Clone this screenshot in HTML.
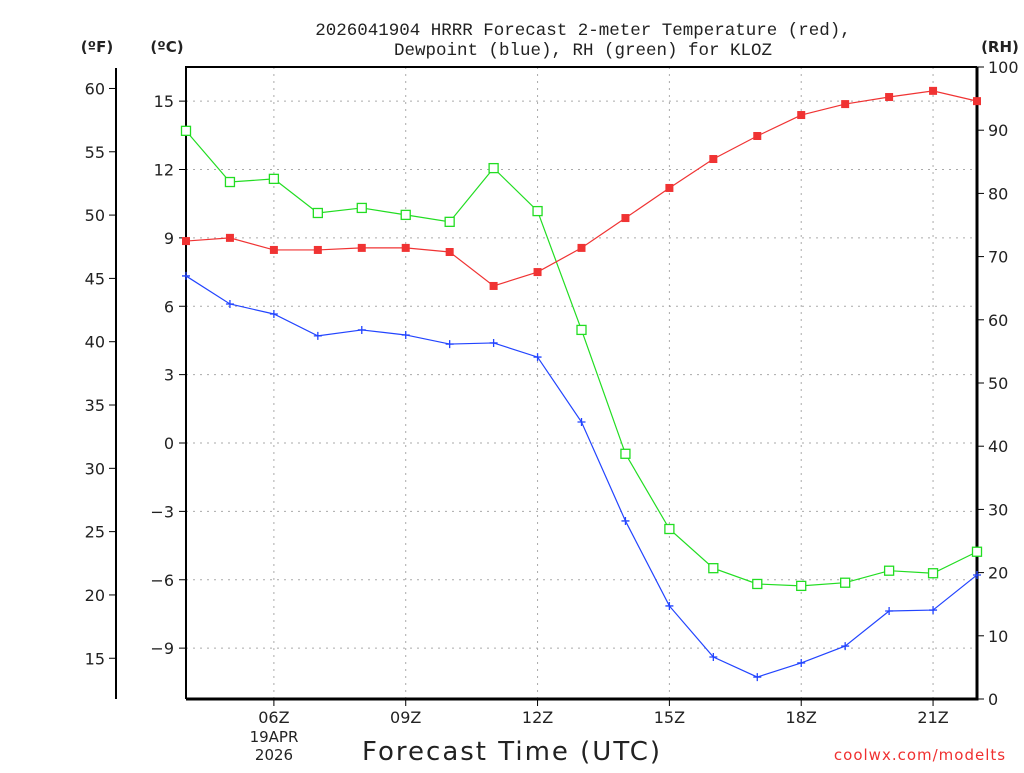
<!DOCTYPE html>
<html><head><meta charset="utf-8"><style>
body{margin:0;background:#fff;}
svg text{font-family:"DejaVu Sans","Liberation Sans",sans-serif;fill:#222;}
svg text.mono{font-family:"Liberation Mono","DejaVu Sans Mono",monospace;}
</style></head><body>
<svg id="chart" width="1024" height="768" viewBox="0 0 1024 768" xmlns="http://www.w3.org/2000/svg">
<g id="grid"></g>
<g id="axes"></g>
<g id="series"></g>
<text class="mono" x="583" y="35" font-size="17.5" text-anchor="middle">2026041904 HRRR Forecast 2-meter Temperature (red),</text>
<text class="mono" x="583" y="55" font-size="17.5" text-anchor="middle">Dewpoint (blue), RH (green) for KLOZ</text>
<text x="97" y="52" font-size="15" font-weight="bold" text-anchor="middle">(ºF)</text>
<text x="167" y="52" font-size="15" font-weight="bold" text-anchor="middle">(ºC)</text>
<text x="1000" y="52" font-size="15" font-weight="bold" text-anchor="middle">(RH)</text>
<text x="512" y="760" font-size="26" text-anchor="middle" letter-spacing="2">Forecast Time (UTC)</text>
<text x="274" y="742" font-size="15" text-anchor="middle">19APR</text>
<text x="274" y="760" font-size="15" text-anchor="middle">2026</text>
<text x="920" y="760" font-size="15" text-anchor="middle" style="fill:#f03030" letter-spacing="1">coolwx.com/modelts</text>
</svg>
<script>
const hours=[4,5,6,7,8,9,10,11,12,13,14,15,16,17,18,19,20,21,22];
const tempC=[8.86,9.0,8.47,8.47,8.56,8.56,8.38,6.89,7.5,8.56,9.87,11.19,12.46,13.47,14.39,14.87,15.18,15.45,15.0];
const dewC=[7.33,6.1,5.66,4.7,4.96,4.74,4.34,4.39,3.77,0.92,-3.42,-7.15,-9.39,-10.27,-9.65,-8.91,-7.37,-7.33,-5.79];
const rh=[89.9,81.8,82.3,76.9,77.7,76.6,75.5,84.0,77.2,58.4,38.8,26.9,20.7,18.2,17.9,18.4,20.3,19.9,23.3];
const cTicks=[15,12,9,6,3,0,-3,-6,-9];
const fTicks=[60,55,50,45,40,35,30,25,20,15];
const rhTicks=[0,10,20,30,40,50,60,70,80,90,100];
const xTickHours=[6,9,12,15,18,21];
const xTickLabels=["06Z","09Z","12Z","15Z","18Z","21Z"];

const L=186,R=977,T=67,B=699;
const xS=h=>L+(h-4)*(R-L)/18;
const yC=c=>443-c*(648-101)/24;
const yF=f=>yC((f-32)*5/9);
const yR=r=>B-r*(B-T)/100;
const NS="http://www.w3.org/2000/svg";
function mk(tag,attrs,parent){const e=document.createElementNS(NS,tag);for(const k in attrs)e.setAttribute(k,attrs[k]);parent.appendChild(e);return e;}
const grid=document.getElementById('grid'),axes=document.getElementById('axes'),ser=document.getElementById('series');

cTicks.forEach(c=>{const y=yC(c);
 const g=mk('line',{x1:L,x2:R,y1:y,y2:y,stroke:'#aaa','stroke-dasharray':'2,5'},grid);
 
 
 const t=mk('line',{x1:L-7,x2:L,y1:y,y2:y,stroke:'#000'},axes);
 
 
 const l=mk('text',{x:L-12,y:y+6,'font-size':16,'text-anchor':'end'},axes);l.textContent=c<0?'\u2212'+(-c):c;
 
 
});
xTickHours.forEach((h,i)=>{const x=xS(h);
 const g=mk('line',{x1:x,x2:x,y1:T,y2:B,stroke:'#aaa','stroke-dasharray':'2,5'},grid);
 
 
 const t=mk('line',{x1:x,x2:x,y1:B,y2:B+7,stroke:'#000'},axes);
 
 
 const l=mk('text',{x:x,y:723,'font-size':16,'text-anchor':'middle'},axes);l.textContent=xTickLabels[i];
 
 
});
fTicks.forEach(f=>{const y=yF(f);
 const t=mk('line',{x1:109,x2:116,y1:y,y2:y,stroke:'#000'},axes);
 
 
 const l=mk('text',{x:105,y:y+6,'font-size':16,'text-anchor':'end'},axes);l.textContent=f;
 
 
});
rhTicks.forEach(r=>{const y=yR(r);
 const t=mk('line',{x1:R,x2:R+7,y1:y,y2:y,stroke:'#000'},axes);
 
 
 const l=mk('text',{x:988,y:y+6,'font-size':16},axes);l.textContent=r;
 
 
});
const fa=mk('line',{x1:116,x2:116,y1:68,y2:699,stroke:'#000','stroke-width':2},axes);


const fr=mk('path',{d:`M${L} ${B}V${T}H${R}`,fill:'none',stroke:'#000','stroke-width':2},axes);


const fr2=mk('path',{d:`M${R} ${T}V${B}H${L}`,fill:'none',stroke:'#000','stroke-width':3},axes);



function series(vals,yf,color,kind,name){
 const pts=vals.map((v,i)=>[xS(hours[i]),yf(v)]);
 const p=mk('polyline',{points:pts.map(p=>p.join(',')).join(' '),fill:'none',stroke:color,'stroke-width':1.2},ser);
 
 
 pts.forEach(([x,y])=>{let m;
  if(kind==='fill'){m=mk('rect',{x:x-4,y:y-4,width:8,height:8,fill:color},ser);}
  else if(kind==='open'){m=mk('rect',{x:x-4.5,y:y-4.5,width:9,height:9,fill:'#fff',stroke:color,'stroke-width':1.3},ser);}
  else{m=mk('path',{d:`M${x-4} ${y}H${x+4}M${x} ${y-4}V${y+4}`,stroke:color,'stroke-width':1.3},ser);}
  
  
 });
}
series(rh,yR,'#22dd22','open','rh');
series(tempC,yC,'#f03333','fill','temperature');
series(dewC,yC,'#2244ff','plus','dewpoint');
</script>
</body></html>
